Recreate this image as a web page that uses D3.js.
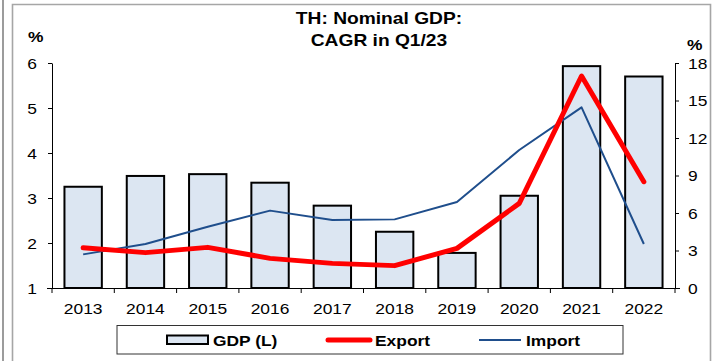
<!DOCTYPE html>
<html>
<head>
<meta charset="utf-8">
<script src="https://cdn.jsdelivr.net/npm/d3@7"></script>
<style>
  html, body { margin: 0; padding: 0; background: #ffffff; }
  svg { display: block; font-family: "Liberation Sans", Arial, sans-serif; }
</style>
</head>
<body>
<svg id="chart" width="712" height="361"></svg>
<script>
// Thailand nominal GDP, export and import: CAGR in Q1/23 (%)
const years = ["2013", "2014", "2015", "2016", "2017", "2018", "2019", "2020", "2021", "2022"];
const gdp    = [3.25, 3.49, 3.53, 3.34, 2.83, 2.25, 1.78, 3.05, 5.93, 5.70];
const exportG = [3.22, 2.83, 3.25, 2.37, 1.97, 1.79, 3.17, 6.77, 16.96, 8.50];
const importG = [2.69, 3.52, 4.90, 6.19, 5.44, 5.49, 6.88, 11.04, 14.45, 3.52];
const leftTicks = [1, 2, 3, 4, 5, 6];
const rightTicks = [0, 3, 6, 9, 12, 15, 18];

const svg = d3.select("#chart");
const SX = 1.16; // horizontal stretch of the lettering

function stretch(sel) {
  sel.each(function () {
    const t = d3.select(this);
    const x = +t.attr("x") || 0;
    t.attr("x", x / SX).attr("transform", `scale(${SX},1)`);
  });
}

// frame
svg.append("line").attr("x1", 3).attr("x2", 3).attr("y1", 0).attr("y2", 361)
  .attr("stroke", "#5a5a5a").attr("stroke-width", 1.2);
svg.append("path")
  .attr("d", "M12.5,361 V4.5 H710.5 V361")
  .attr("fill", "none").attr("stroke", "#a6a6a6").attr("stroke-width", 1.6);

const x = d3.scaleBand().domain(years).range([52, 675]).paddingInner(0.4).paddingOuter(0.2);
const yL = d3.scaleLinear().domain([1, 6]).range([288, 63]);
const yR = d3.scaleLinear().domain([0, 18]).range([288, 63]);
const cx = d => x(d) + x.bandwidth() / 2;

// bars
svg.append("g").selectAll("rect").data(years).join("rect")
  .attr("x", d => x(d))
  .attr("width", x.bandwidth())
  .attr("y", (d, i) => yL(gdp[i]))
  .attr("height", (d, i) => yL(1) - yL(gdp[i]))
  .attr("fill", "#dce6f2")
  .attr("stroke", "#000").attr("stroke-width", 2);

// axes
const axL = svg.append("g").attr("transform", "translate(52,0)")
  .call(d3.axisLeft(yL).tickValues(leftTicks).tickFormat(d3.format("d"))
    .tickSize(4).tickPadding(11).tickSizeOuter(0));
const axR = svg.append("g").attr("transform", "translate(675,0)")
  .call(d3.axisRight(yR).tickValues(rightTicks).tickFormat(d3.format("d"))
    .tickSize(4).tickPadding(9).tickSizeOuter(0));
[axL, axR].forEach(a => {
  a.select(".domain").attr("stroke", "#000").attr("stroke-width", 1);
  a.selectAll(".tick line").attr("stroke", "#000");
  a.selectAll("text").attr("font-size", 15).attr("fill", "#000").attr("dy", "0.36em")
    .attr("font-family", "Liberation Sans, Arial, sans-serif").call(stretch);
});

// category axis
const axX = svg.append("g").attr("transform", "translate(0,288)");
axX.append("line").attr("x1", 47).attr("x2", 680).attr("y1", 0.5).attr("y2", 0.5).attr("stroke", "#000");
const bounds = d3.range(years.length + 1).map(i => 52 + x.step() * i);
axX.selectAll("line.tk").data(bounds).join("line").attr("class", "tk")
  .attr("x1", d => d).attr("x2", d => d).attr("y1", 0).attr("y2", 5).attr("stroke", "#000");
axX.selectAll("text").data(years).join("text")
  .attr("x", d => cx(d)).attr("y", 26)
  .attr("text-anchor", "middle").attr("font-size", 15).attr("fill", "#000")
  .text(d => d).call(stretch);

// lines
const seriesLine = d3.line().x((d, i) => cx(years[i])).y(d => yR(d));
svg.append("path").datum(importG).attr("d", seriesLine)
  .attr("fill", "none").attr("stroke", "#1f4e8c").attr("stroke-width", 2)
  .attr("stroke-linejoin", "round");
svg.append("path").datum(exportG).attr("d", seriesLine)
  .attr("fill", "none").attr("stroke", "#ff0000").attr("stroke-width", 5)
  .attr("stroke-linecap", "round").attr("stroke-linejoin", "round");

// unit labels
svg.append("text").attr("x", 28).attr("y", 42).attr("font-size", 15).attr("font-weight", "bold")
  .text("%").call(stretch);
svg.append("text").attr("x", 687).attr("y", 50).attr("font-size", 15).attr("font-weight", "bold")
  .text("%").call(stretch);

// title
const title = svg.append("text").attr("text-anchor", "middle").attr("font-size", 16)
  .attr("font-weight", "bold").attr("fill", "#000");
title.append("tspan").attr("x", 379 / 1.2).attr("y", 24).text("TH: Nominal GDP:");
title.append("tspan").attr("x", 379 / 1.2).attr("y", 46).text("CAGR in Q1/23");
title.attr("transform", "scale(1.2,1)");

// legend
const lg = svg.append("g");
lg.append("rect").attr("x", 117).attr("y", 325.5).attr("width", 506).attr("height", 28.5)
  .attr("fill", "#fff").attr("stroke", "#333").attr("stroke-width", 1);
lg.append("rect").attr("x", 167).attr("y", 335.5).attr("width", 41).attr("height", 8.5)
  .attr("fill", "#dce6f2").attr("stroke", "#000").attr("stroke-width", 2);
lg.append("line").attr("x1", 328).attr("x2", 370).attr("y1", 340).attr("y2", 340)
  .attr("stroke", "#ff0000").attr("stroke-width", 5).attr("stroke-linecap", "round");
lg.append("line").attr("x1", 479).attr("x2", 521).attr("y1", 340).attr("y2", 340)
  .attr("stroke", "#1f4e8c").attr("stroke-width", 2);
const legendItems = [["GDP (L)", 213], ["Export", 375], ["Import", 526]];
lg.selectAll("text.lt").data(legendItems).join("text").attr("class", "lt")
  .attr("x", d => d[1]).attr("y", 346).attr("font-size", 15).attr("font-weight", "bold")
  .attr("fill", "#000").text(d => d[0]).call(stretch);
</script>
</body>
</html>
